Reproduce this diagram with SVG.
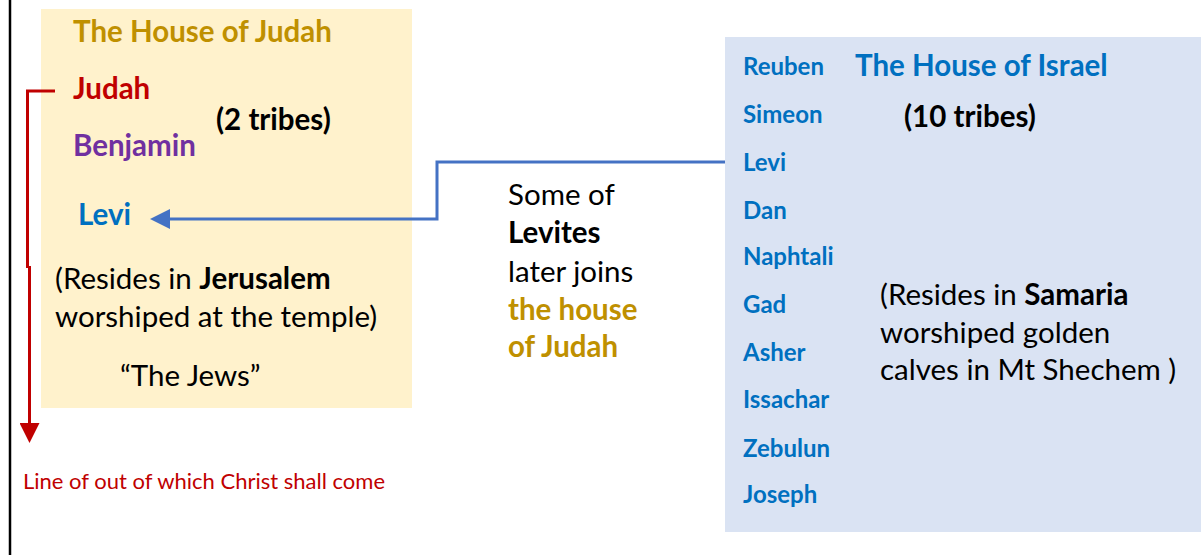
<svg xmlns="http://www.w3.org/2000/svg" width="1201" height="555" viewBox="0 0 1201 555">
<style>
text{font-family:Lato,"Liberation Sans",sans-serif;}
.b{font-weight:bold;}
.t{font-size:29.5px;}
.s{font-size:24px;}
.f{font-size:22px;}
.gold{fill:#BF9000;}
.red{fill:#C00000;}
.pur{fill:#7030A0;}
.blu{fill:#0070C0;}
.blk{fill:#000;}
</style>
<defs>
<marker id="ar" markerUnits="userSpaceOnUse" markerWidth="20" markerHeight="20" refX="0" refY="10" orient="auto"><path d="M0,0 L20,10 L0,20 z" fill="#C00000"/></marker>
<marker id="ab" markerUnits="userSpaceOnUse" markerWidth="20" markerHeight="20" refX="0" refY="10" orient="auto"><path d="M0,0 L20,10 L0,20 z" fill="#4472C4"/></marker>
</defs>
<rect width="1201" height="555" fill="#fff"/>
<line x1="10" y1="0" x2="10" y2="555" stroke="#000" stroke-width="2.5"/>
<g id="judah">
<rect x="41" y="9" width="371" height="399" fill="#FFF2CC"/>
<text class="t b gold" x="73" y="42">The House of Judah</text>
<text class="t b red" x="73" y="99">Judah</text>
<text class="t b blk" x="216" y="130">(2 tribes)</text>
<text class="t b pur" x="73" y="156">Benjamin</text>
<text class="t b blu" x="78" y="225">Levi</text>
<text class="t blk" x="55" y="289">(Resides in <tspan class="b">Jerusalem</tspan></text>
<text class="t blk" x="55" y="327">worshiped at the temple)</text>
<text class="t blk" x="120" y="386">“The Jews”</text>
</g>
<g id="israel">
<rect x="725" y="37" width="476" height="495" fill="#DAE3F3"/>
<text class="t b blu" x="855" y="76">The House of Israel</text>
<text class="t b blk" x="904" y="127">(10 tribes)</text>
<g class="s b blu">
<text x="743" y="75">Reuben</text>
<text x="743" y="123">Simeon</text>
<text x="743" y="171">Levi</text>
<text x="743" y="219">Dan</text>
<text x="743" y="265">Naphtali</text>
<text x="743" y="313">Gad</text>
<text x="743" y="361">Asher</text>
<text x="743" y="408">Issachar</text>
<text x="743" y="457">Zebulun</text>
<text x="743" y="503">Joseph</text>
</g>
<text class="t blk" x="880" y="305">(Resides in <tspan class="b">Samaria</tspan></text>
<text class="t blk" x="880" y="343">worshiped golden</text>
<text class="t blk" x="880" y="380">calves in Mt Shechem )</text>
</g>
<g id="levites-note">
<text class="t blk" x="508" y="205">Some of</text>
<text class="t b blk" x="508" y="243">Levites</text>
<text class="t blk" x="508" y="282">later joins</text>
<text class="t b gold" x="508" y="320">the house</text>
<text class="t b gold" x="508" y="357">of Judah</text>
</g>
<g id="christ-line-label">
<text class="f red" x="23" y="489">Line of out of which Christ shall come</text>
</g>
<g id="connectors" fill="none" stroke-width="3">
<path d="M55,91 H27.5 V268" stroke="#C00000"/>
<path d="M29.5,266 V423" stroke="#C00000" marker-end="url(#ar)"/>
<path d="M725,162 H437 V219 H170" stroke="#4472C4" marker-end="url(#ab)"/>
</g>
</svg>
